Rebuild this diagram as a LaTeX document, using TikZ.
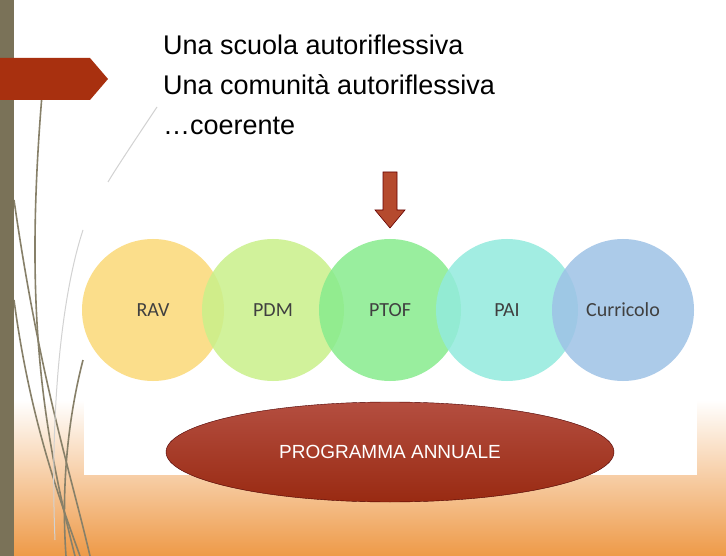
\documentclass[tikz,border=0pt]{standalone}
\usepackage{fontspec}
\usetikzlibrary{shapes.geometric}
\setmainfont{Liberation Sans}
\newfontfamily\carl{Carlito}
\definecolor{cRav}{HTML}{FBD977}
\definecolor{cPdm}{HTML}{C9F08A}
\definecolor{cPtof}{HTML}{88EC8E}
\definecolor{cPai}{HTML}{92EBDD}
\definecolor{cCur}{HTML}{9EC2E6}
\definecolor{cBar}{HTML}{7A7258}
\definecolor{cTag}{HTML}{A8300F}
\definecolor{cArr}{HTML}{B54A2E}
\definecolor{cElT}{HTML}{B44E40}
\definecolor{cElB}{HTML}{992A12}
\definecolor{cOr}{HTML}{EE9A48}
\begin{document}
\begin{tikzpicture}[x=1pt,y=-1pt,
  circ/.style={circle,minimum size=142pt,inner sep=0pt,fill opacity=0.85,text opacity=1,font=\carl\fontsize{20}{20}\selectfont,text=black!75},
  deco/.style={draw=cBar!90,line width=1.6pt},
  decol/.style={draw=gray!35,line width=1pt}]
\useasboundingbox (0,0) rectangle (726,556);
\fill[white] (0,0) rectangle (726,556);
\shade[top color=white,bottom color=cOr] (0,400) rectangle (726,556);
\fill[white] (84,230) rectangle (697,475);
% decorative lines
\draw[deco] (42,95) .. controls (25,300) and (40,420) .. (75,556);
\draw[deco] (14,200) .. controls (40,380) and (70,470) .. (90,556);
\draw[deco] (14,300) .. controls (30,420) and (60,500) .. (80,556);
\draw[deco] (83,360) .. controls (65,430) and (62,500) .. (66,556);
\draw[decol] (157,107) .. controls (135,140) and (115,170) .. (108,182);
\draw[decol] (83,230) .. controls (60,300) and (50,420) .. (55,540);
\fill[cBar] (0,0) rectangle (14,556);
% red tag
\fill[cTag] (0,58) -- (90,58) -- (108,79) -- (90,100) -- (0,100) -- cycle;
% title
\node[anchor=north west,align=left,font=\fontsize{27}{40}\selectfont,inner sep=0pt] (title) at (163,35) {Una scuola autoriflessiva\\Una comunità autoriflessiva\\…coerente};
% circles
\node[circ,fill=cRav] (rav) at (153,310) {RAV};
\node[circ,fill=cPdm] (pdm) at (273,310) {PDM};
\node[circ,fill=cPtof] (ptof) at (390,310) {PTOF};
\node[circ,fill=cPai] (pai) at (507,310) {PAI};
\node[circ,fill=cCur] (cur) at (623,310) {Curricolo};
% arrow
\draw[fill=cArr,draw=red!40!black,line width=0.6pt] (383,172) -- (397,172) -- (397,210) -- (405,210) -- (390,228) -- (375,210) -- (383,210) -- cycle;
% ellipse
\node[ellipse,minimum width=448pt,minimum height=100pt,top color=cElT,bottom color=cElB,draw=red!30!black,text=white,font=\fontsize{19}{19}\selectfont] (pa) at (390,452) {PROGRAMMA ANNUALE};
\end{tikzpicture}
\end{document}
